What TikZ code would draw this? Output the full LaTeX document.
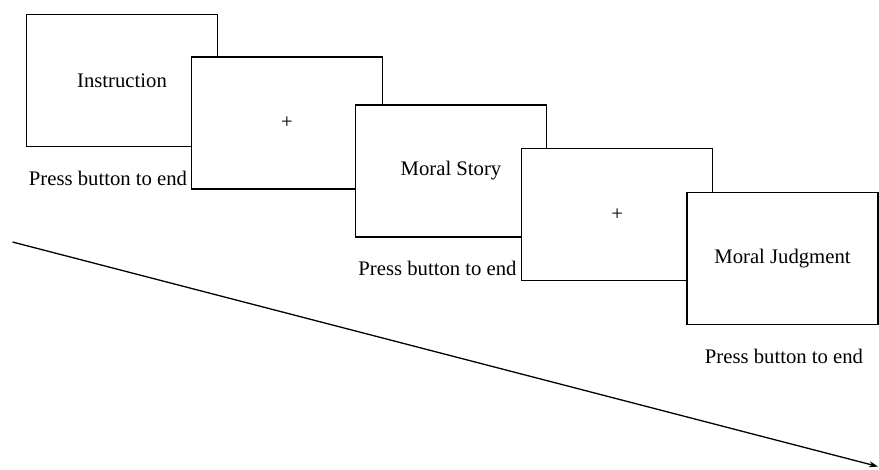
\documentclass[tikz,border=0pt]{standalone}
\usepackage{fontspec}
\setmainfont{Liberation Serif}
\usetikzlibrary{arrows.meta}

\begin{document}
\begin{tikzpicture}[x=1pt, y=-1pt, every node/.style={font=\fontsize{20.7}{24}\selectfont},
  screen/.style={draw, fill=white, line width=1.3pt, minimum width=191pt, minimum height=132pt, inner sep=0pt}]
  \useasboundingbox (0,0) rectangle (879,469);

  \node[screen] (instr) at (122,80.3) {Instruction};
  \node[screen] (fix1) at (287,123) {+};
  \node[screen] (story) at (451,171) {Moral Story};
  \node[screen] (fix2) at (617.3,214.3) {+};
  \node[screen] (judge) at (782.5,258.8) {Moral Judgment};

  \node (end1) at (108,178) {Press button to end};
  \node (end2) at (437.5,268) {Press button to end};
  \node (end3) at (784,356.7) {Press button to end};

  \coordinate (t0) at (12.5,242);
  \coordinate (t1) at (878,466.5);
  \draw[line width=1.3pt, -{Stealth[length=9pt,width=6pt]}] (t0) -- (t1);
\end{tikzpicture}
\end{document}
